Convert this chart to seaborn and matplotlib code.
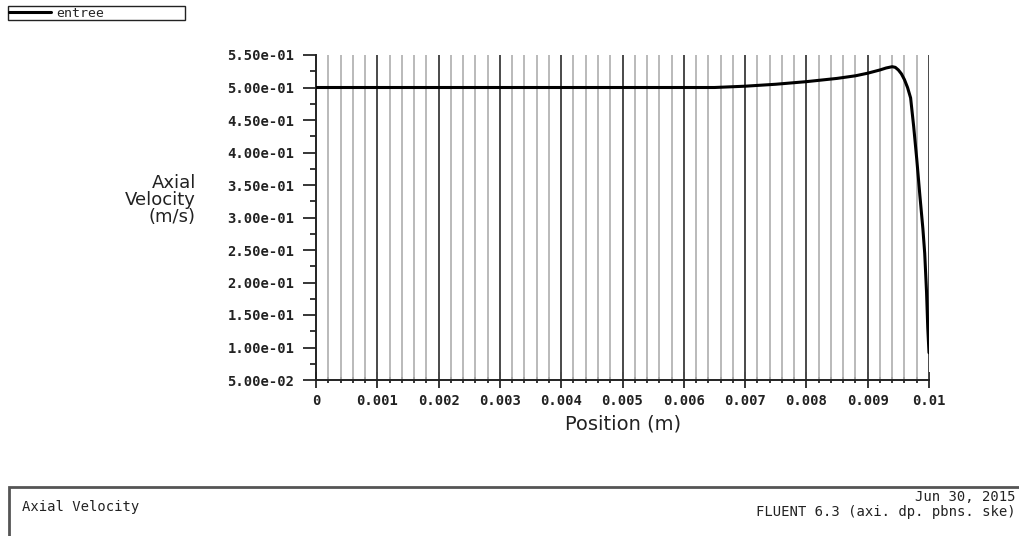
import numpy as np
import matplotlib.pyplot as plt
import seaborn as sns
from matplotlib.patches import Rectangle
from matplotlib.ticker import MultipleLocator, FixedLocator

# Axial velocity profile
position = [0.0, 0.001, 0.002, 0.003, 0.004, 0.005, 0.006, 0.0065, 0.007,
            0.0075, 0.008, 0.0085, 0.0088, 0.009, 0.0092, 0.0093, 0.0094,
            0.00945, 0.0095, 0.00955, 0.0096, 0.00965, 0.0097, 0.00975,
            0.0098, 0.00985, 0.0099, 0.00993, 0.00996, 0.00998, 0.01]
velocity = [0.500, 0.500, 0.500, 0.500, 0.500, 0.500, 0.500, 0.500, 0.502,
            0.505, 0.509, 0.514, 0.518, 0.522, 0.527, 0.530, 0.532,
            0.531, 0.527, 0.521, 0.512, 0.500, 0.484, 0.440,
            0.390, 0.335, 0.283, 0.245, 0.185, 0.130, 0.092]

yticks = [0.05, 0.10, 0.15, 0.20, 0.25, 0.30, 0.35, 0.40, 0.45, 0.50, 0.55]
ytick_labels = ["%.2e" % v for v in yticks]
xticks = [0, 0.001, 0.002, 0.003, 0.004, 0.005, 0.006, 0.007, 0.008, 0.009, 0.01]
xtick_labels = ["0", "0.001", "0.002", "0.003", "0.004", "0.005", "0.006",
                "0.007", "0.008", "0.009", "0.01"]

sns.set_style("white")
plt.rcParams['font.family'] = ['DejaVu Sans Mono', 'DejaVu Sans']

fig = plt.figure(figsize=(10.2, 5.36), dpi=100)
ax = fig.add_axes([316 / 1020, 1 - 380 / 536, (929 - 316) / 1020, (380 - 55) / 536])

# vertical grid lines
minor_x = np.round(np.arange(0, 0.01001, 0.0002), 5)
for xv in minor_x:
    if not np.isclose(xv * 1000, round(xv * 1000)):
        ax.axvline(xv, color='#b4b4b4', lw=1.3, zorder=1)
for xv in xticks[1:]:
    ax.axvline(xv, color='#4a4a4a', lw=1.4, zorder=1)

sns.lineplot(x=position, y=velocity, ax=ax, color='black', lw=2.2,
             label='entree', zorder=3)

ax.set_xlim(0, 0.01)
ax.set_ylim(0.05, 0.55)
ax.set_xticks(xticks)
ax.set_xticklabels(xtick_labels, fontsize=10, fontweight='bold', color='#222222')
ax.set_yticks(yticks)
ax.set_yticklabels(ytick_labels, fontsize=10, fontweight='bold', color='#222222')
ax.yaxis.set_minor_locator(MultipleLocator(0.025))
ax.xaxis.set_minor_locator(FixedLocator(minor_x))

ax.tick_params(axis='y', which='major', direction='out', length=9.5, width=1.3, pad=6, left=True)
ax.tick_params(axis='y', which='minor', direction='out', length=4.5, width=1.3, left=True)
ax.tick_params(axis='x', which='major', direction='inout', length=12, width=1.3, pad=4, bottom=True)
ax.tick_params(axis='x', which='minor', direction='inout', length=5, width=1.3, bottom=True)

for side in ['top', 'right']:
    ax.spines[side].set_visible(False)
for side in ['left', 'bottom']:
    ax.spines[side].set_color('#222222')
    ax.spines[side].set_linewidth(1.4)

ax.set_xlabel("Position (m)", family='DejaVu Sans', fontsize=14, color='#222222')
ax.xaxis.set_label_coords((623 - 316) / (929 - 316), -(424 - 380) / (380 - 55))
ax.xaxis.label.set_va('center')
ax.set_ylabel("")
fig.text(196 / 1020, 1 - 200 / 536, "Axial\nVelocity\n(m/s)", family='DejaVu Sans',
         fontsize=13, color='#222222', ha='right', va='center', multialignment='right',
         linespacing=0.95)

# legend box in top-left
ax.legend(loc='upper left', bbox_to_anchor=(8 / 1020, 1 - 6 / 536, 177 / 1020, 0.0),
          bbox_transform=fig.transFigure, mode='expand', frameon=True, fancybox=False,
          edgecolor='#222222', framealpha=1, fontsize=9.5, borderpad=0.05,
          handlelength=3.2, handletextpad=0.4, borderaxespad=0)

# bottom title box
fig.patches.append(Rectangle((9 / 1020, -0.05), 1.1, 1 - 487 / 536 + 0.05,
                             transform=fig.transFigure, fill=False,
                             edgecolor='#555555', lw=2, clip_on=False))
fig.text(22 / 1020, 1 - 507 / 536, "Axial Velocity", fontsize=10, color='#222222', va='center')
fig.text(1016 / 1020, 1 - 497 / 536, "Jun 30, 2015", fontsize=10, color='#222222',
         ha='right', va='center')
fig.text(1016 / 1020, 1 - 512 / 536, "FLUENT 6.3 (axi. dp. pbns. ske)", fontsize=10,
         color='#222222', ha='right', va='center')

fig.savefig("out.png", dpi=100)
